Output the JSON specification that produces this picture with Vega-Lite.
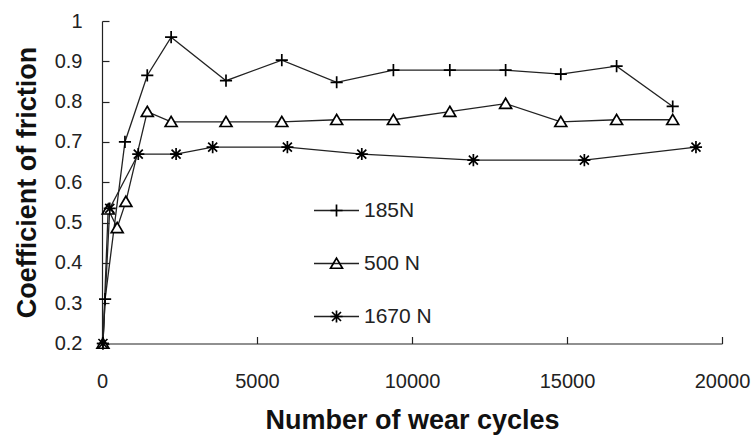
{
  "$schema": "https://vega.github.io/schema/vega-lite/v6.json",
  "width": 620,
  "height": 322.5,
  "autosize": {"type": "none"},
  "padding": {"left": 102, "top": 21, "right": 32, "bottom": 92.5},
  "background": "white",
  "config": {
    "view": {"stroke": null},
    "font": "Liberation Sans",
    "axis": {
      "grid": false,
      "domainColor": "#222",
      "domainWidth": 1.2,
      "tickColor": "#222",
      "tickWidth": 1.2,
      "tickSize": -7,
      "labelFont": "Liberation Sans",
      "labelFontSize": 20,
      "labelColor": "#222",
      "labelFlush": false,
      "labelOverlap": false,
      "titleFont": "Liberation Sans",
      "titleFontSize": 27,
      "titleFontWeight": "bold",
      "titleColor": "#111"
    }
  },
  "data": {
    "values": [
      {"load": "185N", "cycles": 30, "cof": 0.2},
      {"load": "185N", "cycles": 100, "cof": 0.31},
      {"load": "185N", "cycles": 740, "cof": 0.70},
      {"load": "185N", "cycles": 1460, "cof": 0.865},
      {"load": "185N", "cycles": 2230, "cof": 0.96},
      {"load": "185N", "cycles": 4000, "cof": 0.852},
      {"load": "185N", "cycles": 5800, "cof": 0.903},
      {"load": "185N", "cycles": 7570, "cof": 0.848},
      {"load": "185N", "cycles": 9400, "cof": 0.878},
      {"load": "185N", "cycles": 11220, "cof": 0.878},
      {"load": "185N", "cycles": 13020, "cof": 0.878},
      {"load": "185N", "cycles": 14800, "cof": 0.868},
      {"load": "185N", "cycles": 16600, "cof": 0.888},
      {"load": "185N", "cycles": 18410, "cof": 0.788},
      {"load": "500 N", "cycles": 30, "cof": 0.2},
      {"load": "500 N", "cycles": 200, "cof": 0.533},
      {"load": "500 N", "cycles": 490, "cof": 0.487},
      {"load": "500 N", "cycles": 770, "cof": 0.552},
      {"load": "500 N", "cycles": 1460, "cof": 0.775},
      {"load": "500 N", "cycles": 2230, "cof": 0.75},
      {"load": "500 N", "cycles": 4000, "cof": 0.75},
      {"load": "500 N", "cycles": 5800, "cof": 0.75},
      {"load": "500 N", "cycles": 7570, "cof": 0.755},
      {"load": "500 N", "cycles": 9400, "cof": 0.755},
      {"load": "500 N", "cycles": 11220, "cof": 0.775},
      {"load": "500 N", "cycles": 13020, "cof": 0.795},
      {"load": "500 N", "cycles": 14800, "cof": 0.75},
      {"load": "500 N", "cycles": 16600, "cof": 0.755},
      {"load": "500 N", "cycles": 18410, "cof": 0.755},
      {"load": "1670 N", "cycles": 30, "cof": 0.2},
      {"load": "1670 N", "cycles": 250, "cof": 0.535},
      {"load": "1670 N", "cycles": 1170, "cof": 0.67},
      {"load": "1670 N", "cycles": 2390, "cof": 0.67},
      {"load": "1670 N", "cycles": 3570, "cof": 0.687},
      {"load": "1670 N", "cycles": 5980, "cof": 0.687},
      {"load": "1670 N", "cycles": 8380, "cof": 0.67},
      {"load": "1670 N", "cycles": 11980, "cof": 0.655},
      {"load": "1670 N", "cycles": 15560, "cof": 0.655},
      {"load": "1670 N", "cycles": 19160, "cof": 0.687}
    ]
  },
  "encoding": {
    "x": {
      "field": "cycles",
      "type": "quantitative",
      "scale": {"domain": [0, 20000], "nice": false, "zero": false},
      "axis": {
        "values": [0, 5000, 10000, 15000, 20000],
        "format": "d",
        "labelPadding": 35,
        "title": "Number of wear cycles",
        "titleX": 310,
        "titleY": 84.5,
        "titleBaseline": "alphabetic",
        "titleAlign": "center"
      }
    },
    "y": {
      "field": "cof",
      "type": "quantitative",
      "scale": {"domain": [0.2, 1], "nice": false, "zero": false},
      "axis": {
        "values": [0.2, 0.3, 0.4, 0.5, 0.6, 0.7, 0.8, 0.9, 1],
        "format": "~g",
        "labelPadding": 27,
        "title": "Coefficient of friction",
        "titleX": -67,
        "titleY": 161,
        "titleAngle": -90,
        "titleBaseline": "alphabetic",
        "titleAlign": "center"
      }
    }
  },
  "layer": [
    {
      "mark": {"type": "line", "strokeWidth": 1.3},
      "encoding": {
        "stroke": {
          "field": "load",
          "type": "nominal",
          "scale": {"range": ["#222", "#222", "#222"]},
          "legend": {
            "title": null,
            "orient": "none",
            "legendX": 211,
            "legendY": 166,
            "symbolType": "stroke",
            "symbolSize": 2025,
            "symbolStrokeWidth": 1.3,
            "labelFont": "Liberation Sans",
            "labelFontSize": 21,
            "labelOpacity": 0,
            "labelExpr": "' '",
            "labelOffset": -30,
            "rowPadding": 19
          }
        }
      }
    },
    {
      "transform": [{"filter": "datum.load === '500 N'"}],
      "mark": {"type": "point", "filled": true, "color": "white", "opacity": 1, "size": 2025, "strokeWidth": 0, "shape": "M0,-0.24L0.265,0.21L-0.265,0.21Z"}
    },
    {
      "mark": {"type": "point", "filled": false, "color": "#000", "size": 2025, "opacity": 1},
      "encoding": {
        "strokeWidth": {
          "field": "load",
          "type": "nominal",
          "scale": {"domain": ["185N", "500 N", "1670 N"], "range": [1.7, 1.7, 2.5]},
          "legend": null
        },
        "shape": {
          "field": "load",
          "type": "nominal",
          "scale": {
            "domain": ["185N", "500 N", "1670 N"],
            "range": [
              "M-0.27,0L0.27,0M0,-0.27L0,0.27",
              "M0,-0.24L0.265,0.21L-0.265,0.21Z",
              "M-0.27,0L0.27,0M0,-0.27L0,0.27M-0.2,-0.2L0.2,0.2M-0.2,0.2L0.2,-0.2"
            ]
          },
          "legend": {
            "title": null,
            "orient": "none",
            "legendX": 211,
            "legendY": 166,
            "symbolSize": 2025,
            "symbolStrokeWidth": 1.7,
            "labelFont": "Liberation Sans",
            "labelFontSize": 21,
            "labelColor": "#222",
            "labelOffset": 4,
            "rowPadding": 19
          }
        }
      }
    }
  ]
}
